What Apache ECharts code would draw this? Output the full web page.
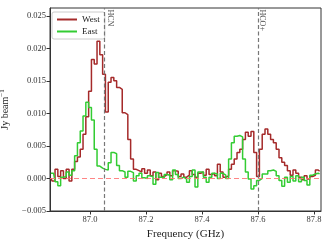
<!DOCTYPE html>
<html><head><meta charset="utf-8">
<script src="https://cdn.jsdelivr.net/npm/echarts@6/dist/echarts.min.js"></script>
<style>html,body{margin:0;padding:0;background:#fff}#c{width:331px;height:244px}</style>
</head><body><div id="c"></div>
<script>
const freqGHz = [86.86,86.87,86.88,86.89,86.90,86.91,86.92,86.93,86.94,86.95,
 86.96,86.97,86.98,86.99,87.00,87.01,87.02,87.03,87.04,87.05,
 87.06,87.07,87.08,87.09,87.10,87.11,87.12,87.13,87.14,87.15,
 87.16,87.17,87.18,87.19,87.20,87.21,87.22,87.23,87.24,87.25,
 87.26,87.27,87.28,87.29,87.30,87.31,87.32,87.33,87.34,87.35,
 87.36,87.37,87.38,87.39,87.40,87.41,87.42,87.43,87.44,87.45,
 87.46,87.47,87.48,87.49,87.50,87.51,87.52,87.53,87.54,87.55,
 87.56,87.57,87.58,87.59,87.60,87.61,87.62,87.63,87.64,87.65,
 87.66,87.67,87.68,87.69,87.70,87.71,87.72,87.73,87.74,87.75,
 87.76,87.77,87.78,87.79,87.80,87.81,87.82];
const westJy = [0.0000,-0.0004,0.0014,0.0003,0.0012,0.0000,0.0014,-0.0004,0.0014,0.0026,
 0.0033,0.0045,0.0068,0.0095,0.0134,0.0183,0.0176,0.0211,0.0190,0.0160,
 0.0102,0.0148,0.0155,0.0150,0.0140,0.0137,0.0101,0.0098,0.0060,0.0030,
 0.0014,0.0012,0.0010,0.0015,0.0008,0.0013,0.0004,0.0010,-0.0002,0.0008,
 0.0003,0.0006,0.0010,0.0004,0.0012,0.0011,0.0003,0.0007,0.0002,0.0005,
 0.0012,0.0006,0.0002,0.0008,0.0010,0.0005,0.0014,0.0006,0.0008,0.0004,
 0.0022,0.0010,0.0002,0.0004,0.0014,0.0022,0.0030,0.0040,0.0045,0.0060,
 0.0071,0.0065,0.0072,0.0040,0.0003,0.0045,0.0068,0.0076,0.0068,0.0060,
 0.0055,0.0045,0.0032,0.0025,0.0020,0.0012,0.0005,0.0013,0.0008,0.0002,
 -0.0002,0.0004,-0.0001,0.0003,0.0005,0.0013,0.0011];
const eastJy = [0.0008,0.0008,-0.0005,-0.0011,0.0002,0.0003,0.0010,0.0005,0.0012,0.0035,
 0.0055,0.0073,0.0096,0.0117,0.0109,0.0090,0.0045,0.0019,0.0016,0.0014,
 0.0013,0.0024,0.0040,0.0038,0.0020,0.0012,0.0010,0.0002,0.0011,0.0009,
 -0.0004,0.0004,0.0008,0.0001,0.0000,0.0004,0.0003,-0.0009,0.0009,0.0002,
 0.0001,0.0006,0.0005,-0.0002,0.0013,0.0006,0.0000,0.0002,-0.0001,-0.0006,
 0.0003,0.0013,-0.0013,0.0010,0.0010,0.0002,-0.0006,0.0002,0.0008,0.0007,
 0.0000,0.0008,0.0005,0.0000,0.0030,0.0055,0.0065,0.0066,0.0064,0.0030,
 0.0010,-0.0001,-0.0016,-0.0011,-0.0003,0.0000,0.0007,0.0007,0.0012,0.0013,
 0.0011,0.0004,-0.0003,-0.0012,0.0002,-0.0006,0.0003,-0.0004,0.0004,-0.0005,
 0.0002,-0.0003,-0.0010,0.0005,0.0007,0.0008,0.0007];
const lineFreqs = [87.054, 87.6];
const lineNames = ['HCN', 'HCO+'];
const xTicks = [87.0, 87.2, 87.4, 87.6, 87.8];
const yTicks = [-0.005, 0.000, 0.005, 0.010, 0.015, 0.020, 0.025];
const xMin = 86.857, xMax = 87.825, yMin = -0.005, yMax = 0.0262;

const font = 'Liberation Serif';
const chart = echarts.init(document.getElementById('c'), null, {renderer: 'canvas'});
const pair = (vals) => freqGHz.map((f, i) => [f, vals[i]]);
const fmtY = v => (v < 0 ? '\u2212' : '') + Math.abs(v).toFixed(3);

chart.setOption({
  animation: false,
  backgroundColor: '#fff',
  grid: {left: 50, right: 10, top: 8, bottom: 33, containLabel: false, outerBoundsMode: 'none',
    show: true, borderColor: '#333', borderWidth: 1},
  legend: {
    left: 52, top: 12, orient: 'vertical', icon: 'rect', itemWidth: 20, itemHeight: 2, itemGap: 3,
    padding: [3, 5, 3, 5], borderColor: '#ccc', borderWidth: 1, borderRadius: 2,
    textStyle: {fontFamily: font, fontSize: 9, color: '#222', padding: [1, 0, 0, 0]},
    data: ['West', 'East']
  },
  xAxis: {
    type: 'value', min: xMin, max: xMax,
    name: 'Frequency (GHz)', nameLocation: 'middle', nameGap: 15,
    nameTextStyle: {fontFamily: font, fontSize: 11, color: '#222'},
    axisLine: {show: true, onZero: false, lineStyle: {color: '#333', width: 1}},
    axisTick: {show: true, length: 3.5, inside: false, customValues: xTicks, lineStyle: {color: '#333'}},
    axisLabel: {customValues: xTicks, formatter: v => v.toFixed(1), fontFamily: font, fontSize: 8.5, color: '#333', margin: 4},
    splitLine: {show: false}
  },
  yAxis: {
    type: 'value', min: yMin, max: yMax,
    name: 'Jy beam{sup|\u22121}', nameLocation: 'middle', nameGap: 38,
    nameTextStyle: {fontFamily: font, fontSize: 10, color: '#222',
      rich: {sup: {fontFamily: font, fontSize: 7, verticalAlign: 'top', padding: [0,0,6,0], color: '#222'}}},
    axisLine: {show: true, lineStyle: {color: '#333', width: 1}},
    axisTick: {show: true, length: 3.5, customValues: yTicks, lineStyle: {color: '#333'}},
    axisLabel: {customValues: yTicks, formatter: fmtY, fontFamily: font, fontSize: 8.5, color: '#333', margin: 4},
    splitLine: {show: false}
  },
  series: [
    {
      name: 'West', type: 'line', step: 'middle', symbol: 'none',
      data: pair(westJy), lineStyle: {color: '#a52a2a', width: 1.5}, itemStyle: {color: '#a52a2a'},
      markLine: {
        silent: true, symbol: 'none', label: {show: false},
        lineStyle: {color: '#777', type: [4, 2.5], width: 1.2},
        data: lineFreqs.map(f => ({xAxis: f}))
      },
      z: 2
    },
    {
      name: 'East', type: 'line', step: 'middle', symbol: 'none',
      data: pair(eastJy), lineStyle: {color: '#33cc33', width: 1.5}, itemStyle: {color: '#33cc33'},
      markLine: {
        silent: true, symbol: 'none', label: {show: false},
        lineStyle: {color: '#ff7070', type: [5, 3], width: 1.2, opacity: 0.85},
        data: [{yAxis: 0}]
      },
      z: 3
    },
    {
      name: 'lines', type: 'scatter', symbolSize: 1, itemStyle: {color: 'rgba(0,0,0,0)'},
      data: lineFreqs.map((f, i) => ({value: [f, yMax], name: lineNames[i]})),
      label: {show: true, formatter: p => p.name, position: [1, 2], rotate: -90,
        align: 'left', verticalAlign: 'bottom', fontFamily: font, fontSize: 8, color: '#222'},
      silent: true, z: 4
    }
  ]
});
</script></body></html>
